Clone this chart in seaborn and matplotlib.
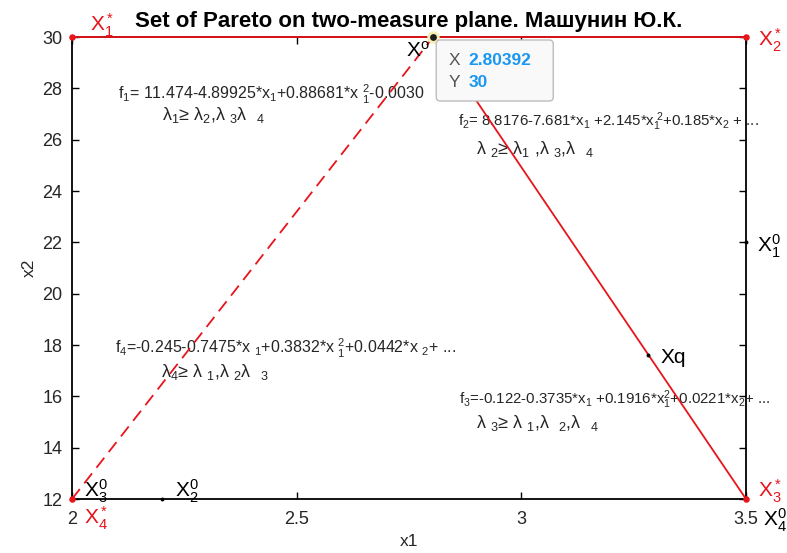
import matplotlib
matplotlib.use("Agg")
import matplotlib.pyplot as plt
import matplotlib.transforms as mtransforms
from matplotlib.patches import FancyBboxPatch
import seaborn as sns

# Pareto set data on the (x1, x2) plane
corner_x = [2.0, 3.5, 3.5, 2.0]          # X1*, X2*, X3*, X4*
corner_y = [30.0, 30.0, 12.0, 12.0]
x_opt = 2.80392                           # X^o
y_opt = 30.0
front_top_x = [2.0, 3.5]
front_top_y = [30.0, 30.0]
front_left_x = [2.0, x_opt]
front_left_y = [12.0, y_opt]
front_right_x = [x_opt, 3.5]
front_right_y = [y_opt, 12.0]
xq_x, xq_y = 3.283, 17.61
x20_x, x20_y = 2.2, 12.0
x10_x, x10_y = 3.5, 22.0

x_ticks = [2, 2.5, 3, 3.5]
x_tick_labels = ["2", "2.5", "3", "3.5"]
y_ticks = [12, 14, 16, 18, 20, 22, 24, 26, 28, 30]

title = "Set of Pareto on two-measure plane. Машунин Ю.К."

sns.set_theme(style="ticks")
plt.rcParams["font.family"] = ["Liberation Sans", "DejaVu Sans"]
plt.rcParams["mathtext.fontset"] = "custom"
plt.rcParams["mathtext.rm"] = "Liberation Sans"
plt.rcParams["mathtext.it"] = "Liberation Sans"
plt.rcParams["mathtext.default"] = "regular"

fig = plt.figure(figsize=(7.87, 5.53), dpi=100)
ax = fig.add_axes([72 / 787, 1 - 499 / 553, 674 / 787, 462 / 553])

red = "#e8141b"
tick_col = "#262626"

# Pareto front lines
sns.lineplot(x=front_top_x, y=front_top_y, ax=ax, color=red, lw=1.3,
             sort=False, estimator=None, clip_on=False, zorder=4)
sns.lineplot(x=front_left_x, y=front_left_y, ax=ax, color=red, lw=1.3,
             sort=False, estimator=None, linestyle=(0, (7, 4)), zorder=4)
sns.lineplot(x=front_right_x, y=front_right_y, ax=ax, color=red, lw=1.3,
             sort=False, estimator=None, zorder=4)

# Corner points X*
sns.scatterplot(x=corner_x, y=corner_y, ax=ax, color=red, s=22,
                edgecolor=red, linewidth=0, clip_on=False, zorder=6)
# Other points
sns.scatterplot(x=[xq_x, x20_x, x10_x], y=[xq_y, x20_y, x10_y], ax=ax,
                color="black", s=8, linewidth=0, clip_on=False, zorder=6)
# Selected optimum with highlight
ax.scatter([x_opt], [y_opt], s=48, facecolor="#1c1c1c", edgecolor="#f3eeb4",
           linewidths=2, clip_on=False, zorder=8)

ax.set_xlim(2, 3.5)
ax.set_ylim(12, 30)
ax.set_xticks(x_ticks)
ax.set_xticklabels(x_tick_labels)
ax.set_yticks(y_ticks)
ax.tick_params(direction="in", length=5, width=1, color="black",
               top=True, right=True, labelsize=13, labelcolor=tick_col)
ax.tick_params(axis="x", pad=9)
ax.tick_params(axis="y", pad=7)
for sp in ax.spines.values():
    sp.set_color("black")
    sp.set_linewidth(1.3)
    sp.set_visible(True)

ax.set_xlabel("x1", fontsize=12.5, color=tick_col, labelpad=4)
ax.set_ylabel("x2", fontsize=12.5, color=tick_col, labelpad=4)
ax.set_title(title, fontsize=16, fontweight="bold", color="black", pad=7)

# Point labels
def lab(x, y, s, dx, dy, color="black", size=15):
    ax.annotate(s, xy=(x, y), xytext=(dx, dy), textcoords="offset pixels",
                ha="left", va="center", color=color, fontsize=size,
                annotation_clip=False, zorder=7)

lab(2.0, 30.0, r"X$_1^*$", 18, 12, red)
lab(3.5, 30.0, r"X$_2^*$", 12, -3, red)
lab(3.5, 12.0, r"X$_3^*$", 12, 8, red)
lab(2.0, 12.0, r"X$_4^*$", 12, -19, red)
lab(2.0, 12.0, r"X$_3^0$", 12, 8)
lab(x20_x, x20_y, r"X$_2^0$", 13, 8)
lab(3.5, 12.0, r"X$_4^0$", 17, -21)
lab(x10_x, x10_y, r"X$_1^0$", 11, -4)
lab(x_opt, y_opt, r"X$^o$", -27, -14)
lab(xq_x, xq_y, "Xq", 12, -2)

# Regression models for each criterion
fs = 11.5
fs_r = 10.8
fs_l = 13
ax.text(2.102, 27.75,
        r"f$_1$= 11.474-4.89925*x$_1$+0.88681*x $_1^2$-0.0030",
        fontsize=fs, va="center", ha="left", zorder=3)
ax.text(2.2, 26.95, r"λ$_1$≥ λ$_2$,λ $_3$λ  $_4$",
        fontsize=fs_l, va="center", ha="left", zorder=3)
ax.text(2.86, 26.7,
        r"f$_2$= 8.8176-7.681*x$_1$ +2.145*x$_1^{\ 2}$+0.185*x$_2$ + ...",
        fontsize=fs_r, va="center", ha="left", zorder=3)
ax.text(2.9, 25.65, r"λ $_2$≥ λ$_1$ ,λ $_3$,λ  $_4$",
        fontsize=fs_l, va="center", ha="left", zorder=3)
ax.text(2.096, 17.85,
        r"f$_4$=-0.245-0.7475*x $_1$+0.3832*x $_1^2$+0.0442*x $_2$+ ...",
        fontsize=fs, va="center", ha="left", zorder=3)
ax.text(2.197, 16.95, r"λ$_4$≥ λ $_1$,λ $_2$λ  $_3$",
        fontsize=fs_l, va="center", ha="left", zorder=3)
ax.text(2.862, 15.85,
        r"f$_3$=-0.122-0.3735*x$_1$ +0.1916*x$_1^2$+0.0221*x$_2$+ ...",
        fontsize=fs_r, va="center", ha="left", zorder=3)
ax.text(2.9, 14.95, r"λ $_3$≥ λ $_1$,λ  $_2$,λ  $_4$",
        fontsize=fs_l, va="center", ha="left", zorder=3)

# Data tip for the selected optimum (pixel offsets from the point)
tip = mtransforms.Affine2D() + mtransforms.ScaledTranslation(x_opt, y_opt, ax.transData)
box = FancyBboxPatch((3, -64), 117, 61, boxstyle="round,pad=0,rounding_size=4",
                     facecolor="#f9f9f9", edgecolor="#bdbdbd", linewidth=1,
                     transform=tip, clip_on=False, zorder=9)
ax.add_patch(box)
tip_rows = [("X", f"{x_opt:.5f}", -23), ("Y", f"{y_opt:g}", -45)]
for name, val, dy in tip_rows:
    ax.text(15, dy, name, transform=tip, fontsize=12.5, color="#555555",
            va="center", ha="left", clip_on=False, zorder=10)
    ax.text(35, dy, val, transform=tip, fontsize=12.5, color="#1a97f0",
            fontweight="bold", va="center", ha="left", clip_on=False, zorder=10)

fig.savefig("out.png", dpi=100)
